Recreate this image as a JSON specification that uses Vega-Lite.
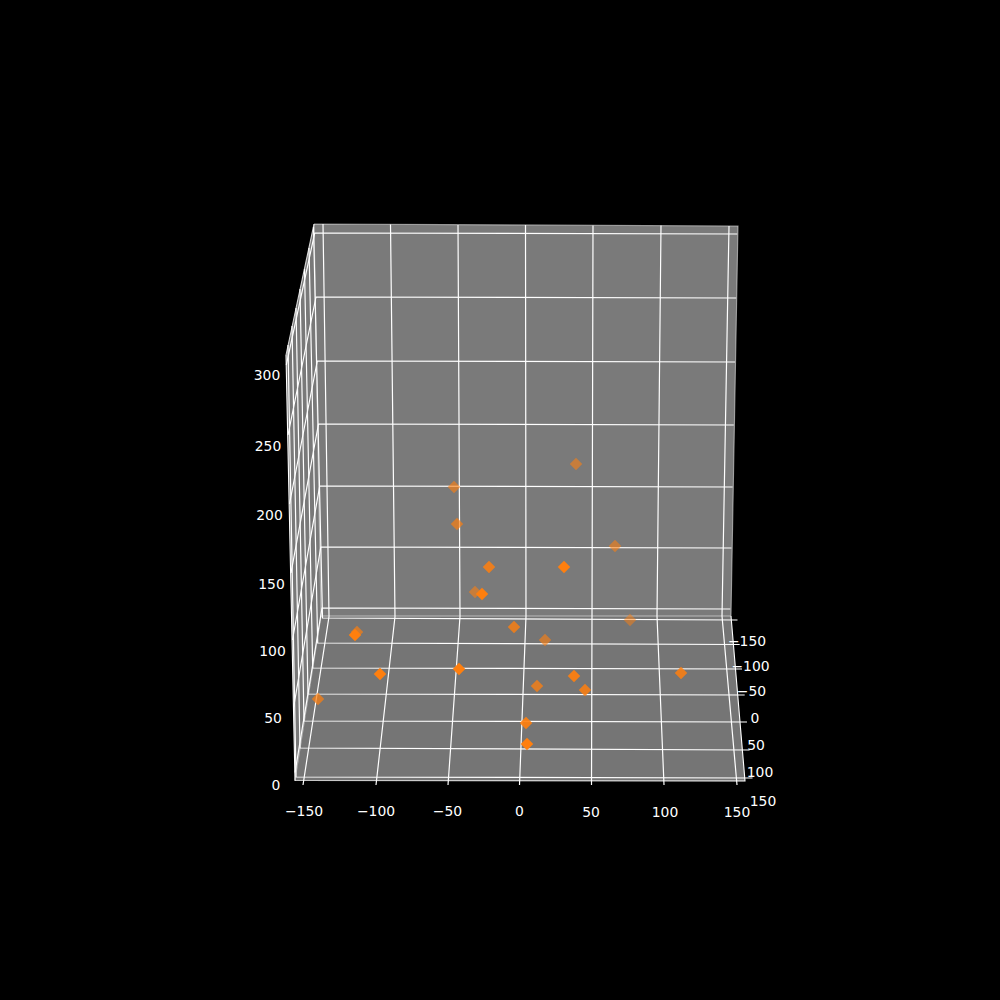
{"$schema":"https://vega.github.io/schema/vega-lite/v6.json","width":1000,"height":1000,"padding":0,"autosize":{"type":"fit","contains":"padding"},"background":"#000000","config":{"view":{"stroke":null}},
"datasets":{
"panes":[
{"pane":"back","px":314,"top":224,"bot":224},{"pane":"back","px":321,"top":224,"bot":616},{"pane":"back","px":731,"top":226,"bot":616},{"pane":"back","px":738,"top":226,"bot":226},
{"pane":"floor","px":295,"top":780,"bot":780},{"pane":"floor","px":321,"top":616,"bot":780.3},{"pane":"floor","px":731,"top":616,"bot":780.9},{"pane":"floor","px":745,"top":781,"bot":781},
{"pane":"left","px":286,"top":355,"bot":355},{"pane":"left","px":295,"top":313,"bot":780},{"pane":"left","px":314,"top":224,"bot":660},{"pane":"left","px":321,"top":616,"bot":616}],
"edges":[
{"id":"e1","o":0.5,"i":1,"px":314,"py":224},{"id":"e1","o":0.5,"i":2,"px":738,"py":226},{"id":"e1","o":0.5,"i":3,"px":731,"py":616},{"id":"e1","o":0.5,"i":4,"px":321,"py":616},{"id":"e1","o":0.5,"i":5,"px":314,"py":224},
{"id":"e2","o":0.8,"i":1,"px":314,"py":224},{"id":"e2","o":0.8,"i":2,"px":286,"py":355},
{"id":"e3","o":0.5,"i":1,"px":321,"py":616},{"id":"e3","o":0.5,"i":2,"px":295,"py":780},
{"id":"a1","o":1,"i":1,"px":286,"py":355},{"id":"a1","o":1,"i":2,"px":295,"py":780.5},{"id":"a1","o":1,"i":3,"px":745,"py":781},{"id":"a1","o":1,"i":4,"px":731,"py":616}],
"grid":[
{"id":"x-150","i":1,"px":323,"py":224},{"id":"x-150","i":2,"px":329,"py":616.5},{"id":"x-150","i":3,"px":303,"py":785},
{"id":"x-100","i":1,"px":390.5,"py":224.5},{"id":"x-100","i":2,"px":395,"py":616.5},{"id":"x-100","i":3,"px":376,"py":785},
{"id":"x-50","i":1,"px":458,"py":225},{"id":"x-50","i":2,"px":460,"py":616.5},{"id":"x-50","i":3,"px":448,"py":785},
{"id":"x0","i":1,"px":525.5,"py":225},{"id":"x0","i":2,"px":526,"py":616},{"id":"x0","i":3,"px":519.5,"py":785},
{"id":"x50","i":1,"px":593,"py":225.5},{"id":"x50","i":2,"px":592,"py":616},{"id":"x50","i":3,"px":591.5,"py":785},
{"id":"x100","i":1,"px":661,"py":225.5},{"id":"x100","i":2,"px":657,"py":616},{"id":"x100","i":3,"px":664,"py":785},
{"id":"x150","i":1,"px":729,"py":226},{"id":"x150","i":2,"px":722,"py":616},{"id":"x150","i":3,"px":737,"py":785},
{"id":"y-150","i":1,"px":737.5,"py":620},{"id":"y-150","i":2,"px":322.5,"py":618},{"id":"y-150","i":3,"px":313.5,"py":227},
{"id":"y-100","i":1,"px":739.7,"py":644.5},{"id":"y-100","i":2,"px":317.7,"py":643},{"id":"y-100","i":3,"px":309,"py":248},
{"id":"y-50","i":1,"px":742,"py":669},{"id":"y-50","i":2,"px":312.7,"py":668},{"id":"y-50","i":3,"px":304.5,"py":269},
{"id":"y0","i":1,"px":744.7,"py":695},{"id":"y0","i":2,"px":308,"py":694},{"id":"y0","i":3,"px":300,"py":289},
{"id":"y50","i":1,"px":747,"py":722},{"id":"y50","i":2,"px":304,"py":721},{"id":"y50","i":3,"px":296,"py":308},
{"id":"y100","i":1,"px":749.6,"py":750},{"id":"y100","i":2,"px":300,"py":748},{"id":"y100","i":3,"px":292,"py":326},
{"id":"y150","i":1,"px":752.5,"py":778},{"id":"y150","i":2,"px":296,"py":777},{"id":"y150","i":3,"px":288,"py":345},
{"id":"z300","i":1,"px":737.3,"py":234},{"id":"z300","i":2,"px":314.7,"py":233},{"id":"z300","i":3,"px":286.3,"py":365},
{"id":"z250","i":1,"px":736.2,"py":298},{"id":"z250","i":2,"px":316,"py":297},{"id":"z250","i":3,"px":288,"py":435},
{"id":"z200","i":1,"px":735,"py":362},{"id":"z200","i":2,"px":317.3,"py":361},{"id":"z200","i":3,"px":289.5,"py":504},
{"id":"z150","i":1,"px":733.8,"py":425},{"id":"z150","i":2,"px":318.5,"py":424},{"id":"z150","i":3,"px":291,"py":573},
{"id":"z100","i":1,"px":732.6,"py":487},{"id":"z100","i":2,"px":319.7,"py":486},{"id":"z100","i":3,"px":292.5,"py":640},
{"id":"z50","i":1,"px":731.5,"py":548},{"id":"z50","i":2,"px":320.8,"py":547},{"id":"z50","i":3,"px":293.7,"py":707},
{"id":"z0","i":1,"px":730.3,"py":609},{"id":"z0","i":2,"px":322,"py":608},{"id":"z0","i":3,"px":295,"py":772.5}],
"points":[
{"px":630,"py":620,"o":0.5},{"px":576,"py":464,"o":0.58},{"px":615,"py":546,"o":0.58},{"px":475,"py":592,"o":0.58},{"px":454,"py":487,"o":0.62},{"px":545,"py":640,"o":0.62},{"px":457,"py":524,"o":0.68},{"px":357,"py":632,"o":0.68},{"px":318,"py":699,"o":0.72},{"px":537,"py":686,"o":0.76},{"px":514,"py":627,"o":0.8},{"px":489,"py":567,"o":0.85},{"px":585,"py":690,"o":0.85},{"px":681,"py":673,"o":0.85},{"px":574,"py":676,"o":0.92},{"px":526,"py":723,"o":0.92},{"px":564,"py":567,"o":1},{"px":355,"py":635,"o":1},{"px":380,"py":674,"o":1},{"px":459,"py":669,"o":1},{"px":527,"py":744,"o":1},{"px":482,"py":594,"o":1}],
"labels":[
{"t":"−150","px":304,"py":811},{"t":"−100","px":376,"py":811},{"t":"−50","px":447.5,"py":811},{"t":"0","px":519.5,"py":811},{"t":"50","px":591,"py":812},{"t":"100","px":665,"py":812},{"t":"150","px":737,"py":812},
{"t":"−150","px":747,"py":641},{"t":"−100","px":750.5,"py":666},{"t":"−50","px":751.5,"py":691},{"t":"0","px":755,"py":718},{"t":"50","px":756,"py":745},{"t":"100","px":760,"py":772},{"t":"150","px":763,"py":801},
{"t":"0","px":276,"py":785},{"t":"50","px":273,"py":718},{"t":"100","px":272.5,"py":651},{"t":"150","px":271.5,"py":584},{"t":"200","px":269.5,"py":515},{"t":"250","px":268,"py":446},{"t":"300","px":267,"py":375}]
},
"encoding":{
"x":{"field":"px","type":"quantitative","scale":{"domain":[0,1000],"nice":false,"zero":false},"axis":null},
"y":{"field":"py","type":"quantitative","scale":{"domain":[1000,0],"nice":false,"zero":false},"axis":null}
},
"layer":[
{"data":{"name":"panes"},"transform":[{"filter":"datum.pane==='left'"}],"mark":{"type":"area","orient":"vertical","interpolate":"linear","color":"#797979","opacity":1},
"encoding":{"y":{"field":"top","type":"quantitative","scale":{"domain":[1000,0],"nice":false,"zero":false},"axis":null},"y2":{"field":"bot"}}},
{"data":{"name":"panes"},"transform":[{"filter":"datum.pane==='back'"}],"mark":{"type":"area","orient":"vertical","interpolate":"linear","color":"#7a7a7a","opacity":1},
"encoding":{"y":{"field":"top","type":"quantitative","scale":{"domain":[1000,0],"nice":false,"zero":false},"axis":null},"y2":{"field":"bot"}}},
{"data":{"name":"panes"},"transform":[{"filter":"datum.pane==='floor'"}],"mark":{"type":"area","orient":"vertical","interpolate":"linear","color":"#757575","opacity":1},
"encoding":{"y":{"field":"top","type":"quantitative","scale":{"domain":[1000,0],"nice":false,"zero":false},"axis":null},"y2":{"field":"bot"}}},
{"data":{"name":"edges"},"mark":{"type":"line","color":"#ffffff","strokeWidth":1.1},
"encoding":{"detail":{"field":"id"},"order":{"field":"i","type":"quantitative"},"opacity":{"field":"o","type":"quantitative","legend":null,"scale":{"domain":[0,1],"range":[0,1]}}}},
{"data":{"name":"grid"},"mark":{"type":"line","color":"#ffffff","strokeWidth":1.2,"opacity":1},
"encoding":{"detail":{"field":"id"},"order":{"field":"i","type":"quantitative"}}},
{"data":{"name":"points"},"mark":{"type":"point","shape":"diamond","filled":true,"color":"#ff7f0e","size":155,"strokeWidth":0},
"encoding":{"opacity":{"field":"o","type":"quantitative","legend":null,"scale":{"domain":[0,1],"range":[0,1]}}}},
{"data":{"name":"labels"},"mark":{"type":"text","color":"#ffffff","font":"DejaVu Sans","fontSize":13.9,"align":"center","baseline":"middle","dy":1},
"encoding":{"text":{"field":"t","type":"nominal"}}}
]}
